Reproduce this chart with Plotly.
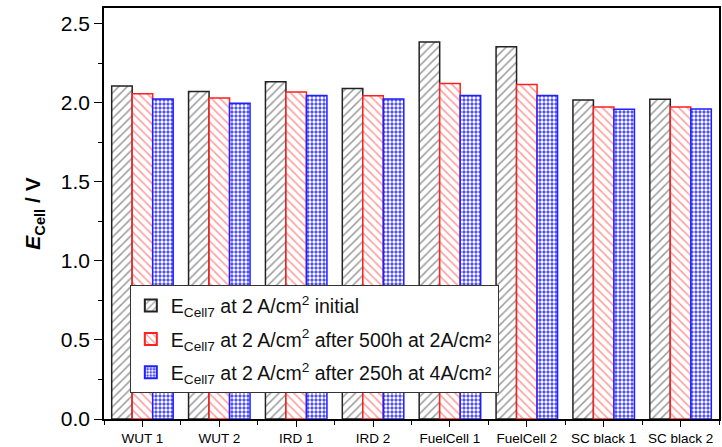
import plotly.graph_objects as go

categories = ["WUT 1", "WUT 2", "IRD 1", "IRD 2", "FuelCell 1", "FuelCell 2", "SC black 1", "SC black 2"]
initial = [2.106, 2.072, 2.133, 2.091, 2.385, 2.355, 2.018, 2.022]
after500 = [2.058, 2.030, 2.068, 2.045, 2.123, 2.116, 1.974, 1.974]
after250 = [2.024, 1.997, 2.047, 2.024, 2.047, 2.047, 1.959, 1.961]
names = [
    "E<sub>Cell7</sub> at 2 A/cm<sup>2</sup> initial",
    "E<sub>Cell7</sub> at 2 A/cm<sup>2</sup> after 500h at 2A/cm²",
    "E<sub>Cell7</sub> at 2 A/cm<sup>2</sup> after 250h at 4A/cm²",
]
y_ticks = [0.0, 0.5, 1.0, 1.5, 2.0, 2.5]

xpos = list(range(len(categories)))

styles = [
    dict(line="#222222", pat=dict(shape="/", fgcolor="#333333", bgcolor="white", size=6, solidity=0.25)),
    dict(line="#ff2020", pat=dict(shape="\\", fgcolor="#ff3030", bgcolor="white", size=6, solidity=0.25)),
    dict(line="#2020ff", pat=dict(shape=".", fgcolor="white", bgcolor="#4040ff", size=4, solidity=0.55, fillmode="replace")),
]

fig = go.Figure()
for i, (vals, nm, st) in enumerate(zip([initial, after500, after250], names, styles)):
    fig.add_trace(go.Bar(
        x=xpos, y=vals, name=nm, legendgroup=f"g{i}",
        marker=dict(color="white", line=dict(color=st["line"], width=1.5), pattern=st["pat"]),
    ))

fig.update_layout(
    width=722, height=447,
    margin=dict(l=104, r=1, t=8, b=26),
    paper_bgcolor="white", plot_bgcolor="white",
    barmode="group", bargap=0.2, bargroupgap=0,
    font=dict(family="Liberation Sans, Arial", color="black"),
    showlegend=True,
    legend=dict(
        x=0.042, y=0.325, xanchor="left", yanchor="top",
        bgcolor="white", bordercolor="#333333", borderwidth=1,
        font=dict(size=19.5, color="#111111"),
        tracegroupgap=5, itemsizing="constant",
    ),
    xaxis=dict(
        range=[-0.5, 7.5], tickmode="array", tickvals=xpos, ticktext=categories,
        ticks="outside", ticklen=6, tickwidth=1.2, tickcolor="black",
        tickfont=dict(size=13.5), showgrid=False, zeroline=False,
        showline=True, linecolor="black", linewidth=1.5, mirror=True,
        minor=dict(tickmode="linear", tick0=0.5, dtick=1, ticks="outside", ticklen=4, tickcolor="black", tickwidth=1.2),
    ),
    yaxis=dict(
        range=[0, 2.6], tickmode="array", tickvals=y_ticks,
        ticktext=[f"{v:.1f}" for v in y_ticks],
        ticks="outside", ticklen=8, tickwidth=1.2, tickcolor="black",
        tickfont=dict(size=21), showgrid=False, zeroline=False,
        showline=True, linecolor="black", linewidth=1.5, mirror=True,
        minor=dict(tickmode="linear", tick0=0.25, dtick=0.5, ticks="outside", ticklen=4, tickcolor="black", tickwidth=1.2),
        title=dict(text="<b><i>E</i></b><sub><b>Cell</b></sub><b> / V</b>", font=dict(size=21), standoff=14),
    ),
)

fig.write_html("out.html")
